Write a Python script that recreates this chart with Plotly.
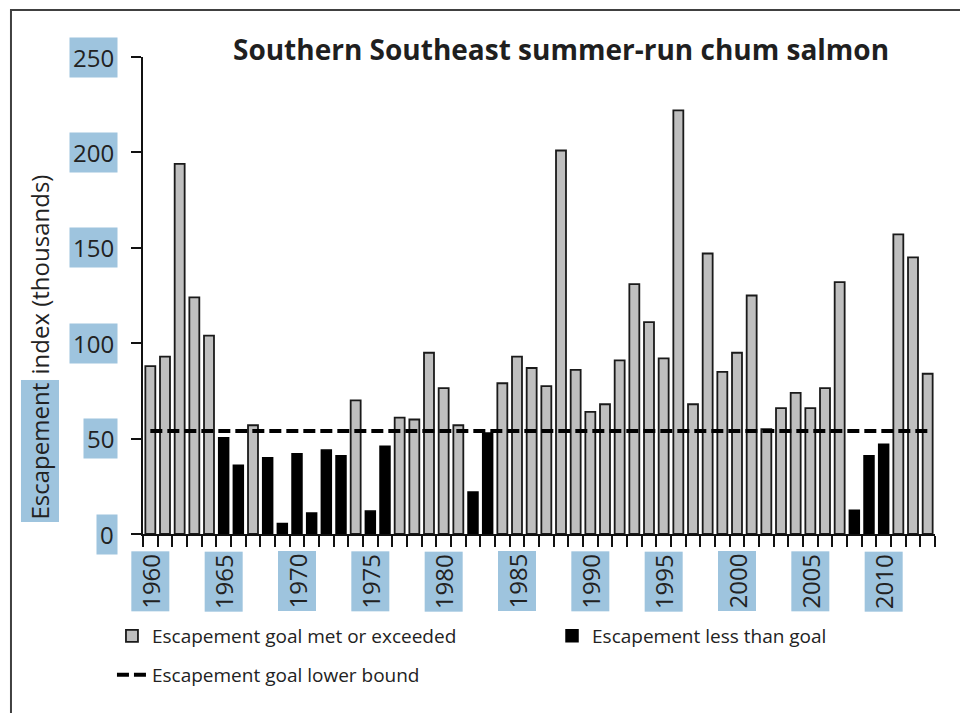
import plotly.graph_objects as go

# ---------------- data ----------------
years = list(range(1960, 2014))
escapement = [
    88, 93, 194, 124, 104, 50.5, 36, 57, 40, 5.5,
    42, 11, 44, 41, 70, 12, 46, 61, 60, 95,
    76.5, 57, 22, 53, 79, 93, 87, 77.5, 201, 86,
    64, 68, 91, 131, 111, 92, 222, 68, 147, 85,
    95, 125, 55, 66, 74, 66, 76.5, 132, 12.5, 41,
    47, 157, 145, 84,
]
goal_lower = 54
label_years = [1960, 1965, 1970, 1975, 1980, 1985, 1990, 1995, 2000, 2005, 2010]
y_ticks = [0, 50, 100, 150, 200, 250]

met = [v if v >= goal_lower else None for v in escapement]
below = [v if v < goal_lower else None for v in escapement]
boundaries = [y - 0.5 for y in years] + [years[-1] + 0.5]

FONT = "Open Sans"
TXT = "#222222"
HL = "rgb(158,196,222)"

fig = go.Figure()
fig.add_trace(go.Bar(
    x=years, y=met, name="Escapement goal met or exceeded",
    marker=dict(color="#BFBFBF", line=dict(color="#1a1a1a", width=1.8)),
    width=0.68, legend="legend",
))
fig.add_trace(go.Bar(
    x=years, y=below, name="Escapement less than goal",
    marker=dict(color="#000000", line=dict(color="#000000", width=1.5)),
    width=0.68, legend="legend3",
))
fig.add_trace(go.Scatter(
    x=years, y=[goal_lower] * len(years), mode="lines",
    name="Escapement goal lower bound",
    line=dict(color="#000000", width=4, dash="12px,5px"),
    legend="legend2",
))

annotations = []
for yt in y_ticks:
    annotations.append(dict(
        x=0, xref="paper", y=yt, yref="y", xanchor="right", yanchor="middle",
        xshift=-25, text=str(yt), showarrow=False, bgcolor=HL, borderpad=3,
        font=dict(family=FONT, size=24, color=TXT),
    ))
for yr in label_years:
    annotations.append(dict(
        x=yr, xref="x", y=0, yref="paper", xanchor="center", yanchor="top",
        yshift=-17, text=str(yr), textangle=-90, showarrow=False, bgcolor=HL,
        borderpad=2, font=dict(family=FONT, size=24, color=TXT),
    ))
# y-axis title (first word highlighted)
annotations.append(dict(
    x=-0.1307, xref="paper", y=0.174, yref="paper", xanchor="center", yanchor="middle",
    text="Escapement", textangle=-90, showarrow=False, bgcolor=HL, borderpad=2,
    font=dict(family=FONT, size=24, color=TXT),
))
annotations.append(dict(
    x=-0.1307, xref="paper", y=0.545, yref="paper", xanchor="center", yanchor="middle",
    text="index (thousands)", textangle=-90, showarrow=False,
    font=dict(family=FONT, size=24, color=TXT),
))

legend_font = dict(family=FONT, size=19, color=TXT)
fig.update_layout(
    width=968, height=713,
    margin=dict(l=135, r=41, t=49, b=187, autoexpand=False),
    paper_bgcolor="white", plot_bgcolor="white",
    barmode="overlay",
    title=dict(text="<b>Southern Southeast summer-run chum salmon</b>",
               x=0.5713, xanchor="center", y=0.941, yanchor="middle",
               font=dict(family=FONT, size=28, color="#1f1f1f")),
    xaxis=dict(range=[1959.5, 2013.5], tickvals=boundaries, showticklabels=False,
               ticks="outside", ticklen=11, tickwidth=1.5, tickcolor="#111",
               showline=True, linecolor="#111", linewidth=1.5, showgrid=False,
               zeroline=False),
    yaxis=dict(range=[0, 250], tickvals=y_ticks, showticklabels=False,
               ticks="outside", ticklen=10, tickwidth=1.5, tickcolor="#111",
               showline=True, linecolor="#111", linewidth=1.5, showgrid=False,
               zeroline=False),
    legend=dict(orientation="h", xref="container", yref="container",
                x=0.1074, xanchor="left", y=0.1192, yanchor="middle",
                font=legend_font, bgcolor="rgba(0,0,0,0)"),
    legend3=dict(orientation="h", xref="container", yref="container",
                 x=0.562, xanchor="left", y=0.1192, yanchor="middle",
                 font=legend_font, bgcolor="rgba(0,0,0,0)"),
    legend2=dict(orientation="h", xref="container", yref="container",
                 x=0.1074, xanchor="left", y=0.0645, yanchor="middle",
                 font=legend_font, bgcolor="rgba(0,0,0,0)"),
    annotations=annotations,
    shapes=[dict(type="rect", xref="paper", yref="paper",
                 x0=-0.1667, x1=1.2, y0=-0.6, y1=1.0985,
                 line=dict(color="#404040", width=2), fillcolor="rgba(0,0,0,0)",
                 layer="below")],
    showlegend=True,
)

fig.write_html("out.html")
